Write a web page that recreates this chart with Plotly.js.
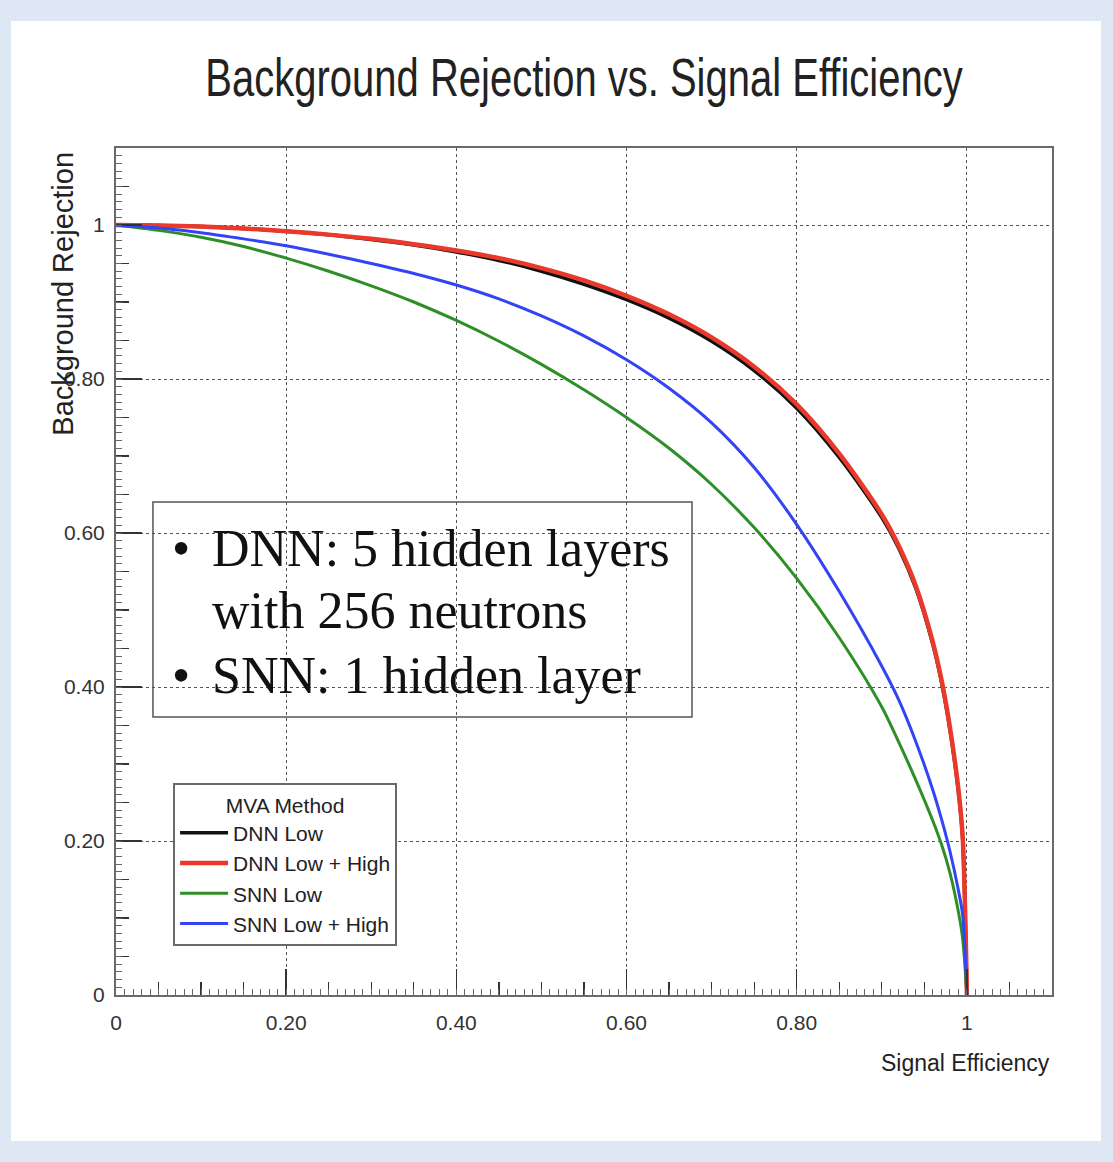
<!DOCTYPE html>
<html>
<head>
<meta charset="utf-8">
<script src="https://cdn.plot.ly/plotly-3.0.1.min.js"></script>
<style>
  html, body { margin: 0; padding: 0; background: #dde8f4; }
  #chart { position: absolute; left: 11px; top: 21px; width: 1090px; height: 1120px; background: #ffffff; }
  #chart text.gtitle { transform-box: fill-box; transform-origin: center; transform: scaleY(1.32); }
</style>
</head>
<body>
<div id="chart"></div>
<script>
// ---- data ----
const signalEfficiency = [0, 0.05, 0.1, 0.15, 0.2, 0.25, 0.3, 0.35, 0.4, 0.45, 0.5, 0.55, 0.6, 0.65, 0.7, 0.75, 0.8, 0.85, 0.9, 0.92, 0.94, 0.96, 0.97, 0.98, 0.99, 0.995, 1.0];
const dnnLow        = [1, 0.9995, 0.998, 0.9955, 0.992, 0.9872, 0.981, 0.974, 0.965, 0.954, 0.940, 0.923, 0.903, 0.879, 0.849, 0.811, 0.762, 0.698, 0.620, 0.580, 0.528, 0.455, 0.407, 0.345, 0.264, 0.204, 0];
const dnnLowHigh    = [1, 0.9995, 0.998, 0.9955, 0.992, 0.9875, 0.982, 0.975, 0.967, 0.957, 0.944, 0.928, 0.908, 0.884, 0.854, 0.816, 0.767, 0.703, 0.624, 0.583, 0.531, 0.458, 0.410, 0.348, 0.267, 0.206, 0];
const snnLow        = [1, 0.993, 0.984, 0.972, 0.957, 0.940, 0.921, 0.900, 0.876, 0.849, 0.819, 0.786, 0.750, 0.710, 0.663, 0.607, 0.541, 0.464, 0.374, 0.328, 0.279, 0.226, 0.196, 0.159, 0.108, 0.073, 0];
const snnLowHigh    = [1, 0.996, 0.990, 0.982, 0.973, 0.962, 0.950, 0.937, 0.922, 0.904, 0.882, 0.856, 0.825, 0.788, 0.743, 0.685, 0.611, 0.524, 0.427, 0.383, 0.329, 0.266, 0.229, 0.187, 0.136, 0.104, 0];

const seriesNames = ["DNN Low", "DNN Low + High", "SNN Low", "SNN Low + High"];
const tickValues = [0, 0.2, 0.4, 0.6, 0.8, 1];
const tickLabels = ["0", "0.20", "0.40", "0.60", "0.80", "1"];
const chartTitle = "Background Rejection vs. Signal Efficiency";
const xTitle = "Signal Efficiency";
const yTitle = "Background Rejection";
const legendTitle = "MVA Method";
const noteLines = ["DNN: 5 hidden layers", "with 256 neutrons", "SNN: 1 hidden layer"];

// ---- styling ----
const SANS = "Liberation Sans, Arial, sans-serif";
const SERIF = "Liberation Serif, Times New Roman, serif";

const traces = [
  {x: signalEfficiency, y: dnnLow, name: seriesNames[0], line: {color: "#111111", width: 3.5}},
  {x: signalEfficiency, y: dnnLowHigh, name: seriesNames[1], line: {color: "#e8392b", width: 4.5}},
  {x: signalEfficiency, y: snnLow, name: seriesNames[2], line: {color: "#2f8f27", width: 3}},
  {x: signalEfficiency, y: snnLowHigh, name: seriesNames[3], line: {color: "#3344f5", width: 3}}
].map(t => Object.assign({type: "scatter", mode: "lines", hoverinfo: "skip"}, t,
  {line: Object.assign({shape: "spline", smoothing: 0.8}, t.line)}));

// empty helper trace so the fine-tick overlay axes get drawn
traces.push({type: "scatter", mode: "lines", x: [], y: [], xaxis: "x2", yaxis: "y2", showlegend: false, hoverinfo: "skip"});

const axisCommon = {
  range: [0, 1.1],
  tickmode: "array",
  tickvals: tickValues,
  ticktext: tickLabels,
  ticks: "inside",
  ticklen: 26,
  tickwidth: 1.5,
  tickcolor: "#333",
  showline: true,
  mirror: true,
  linecolor: "#6a6a6a",
  linewidth: 2,
  showgrid: true,
  gridcolor: "#555",
  griddash: "dot",
  gridwidth: 1,
  zeroline: false,
  fixedrange: true,
  tickfont: {family: SANS, size: 21, color: "#333"},
  minor: {tickmode: "linear", tick0: 0, dtick: 0.05, ticks: "inside", ticklen: 13, tickwidth: 1.2, tickcolor: "#333", showgrid: false}
};
const tinyTicks = {
  range: [0, 1.1], showgrid: false, showline: false, zeroline: false, showticklabels: false,
  tickmode: "linear", tick0: 0, dtick: 0.01, ticks: "inside", ticklen: 6, tickwidth: 1, tickcolor: "#666", fixedrange: true
};

const layout = {
  width: 1090,
  height: 1120,
  margin: {l: 105, r: 49, t: 127, b: 146},
  paper_bgcolor: "#ffffff",
  plot_bgcolor: "#ffffff",
  showlegend: true,
  title: {
    text: chartTitle,
    font: {family: SANS, size: 40, color: "#222"},
    x: 0.5, xref: "paper", xanchor: "center",
    y: 0.949, yref: "container", yanchor: "middle"
  },
  xaxis: Object.assign({}, axisCommon, {ticklabelstandoff: 8}),
  yaxis: Object.assign({}, axisCommon, {ticklabelstandoff: 5}),
  xaxis2: Object.assign({}, tinyTicks, {overlaying: "x", anchor: "y2", side: "bottom"}),
  yaxis2: Object.assign({}, tinyTicks, {overlaying: "y", anchor: "x2", side: "left"}),
  legend: {
    x: 0.061, y: 0.250, xanchor: "left", yanchor: "top",
    bgcolor: "#ffffff", bordercolor: "#6a6a6a", borderwidth: 2,
    font: {family: SANS, size: 21, color: "#222"},
    title: {text: legendTitle, side: "top center", font: {family: SANS, size: 21, color: "#222"}},
    itemwidth: 48,
    tracegroupgap: 0
  },
  shapes: [
    {type: "rect", xref: "paper", yref: "paper", x0: 0.0395, x1: 0.6154, y0: 0.3282, y1: 0.582,
     line: {color: "#555", width: 1.5}, fillcolor: "rgba(0,0,0,0)"}
  ],
  annotations: [
    {text: yTitle, xref: "paper", yref: "paper", x: -0.0566, y: 0.998, xanchor: "center", yanchor: "top",
     textangle: -90, showarrow: false, font: {family: SANS, size: 29, color: "#222"}},
    {text: xTitle, xref: "paper", yref: "paper", x: 1.0, y: -0.0803, xanchor: "right", yanchor: "middle",
     showarrow: false, font: {family: SANS, size: 23, color: "#222"}},
    {text: "\u2022", xref: "paper", yref: "paper", x: 0.0577, y: 0.5277, xanchor: "left", yanchor: "middle",
     showarrow: false, font: {family: SERIF, size: 52, color: "#111"}},
    {text: noteLines[0], xref: "paper", yref: "paper", x: 0.1004, y: 0.5277, xanchor: "left", yanchor: "middle",
     showarrow: false, font: {family: SERIF, size: 52, color: "#111"}},
    {text: noteLines[1], xref: "paper", yref: "paper", x: 0.1004, y: 0.4534, xanchor: "left", yanchor: "middle",
     showarrow: false, font: {family: SERIF, size: 52, color: "#111"}},
    {text: "\u2022", xref: "paper", yref: "paper", x: 0.0577, y: 0.3778, xanchor: "left", yanchor: "middle",
     showarrow: false, font: {family: SERIF, size: 52, color: "#111"}},
    {text: noteLines[2], xref: "paper", yref: "paper", x: 0.1004, y: 0.3778, xanchor: "left", yanchor: "middle",
     showarrow: false, font: {family: SERIF, size: 52, color: "#111"}}
  ]
};

Plotly.newPlot("chart", traces, layout, {displayModeBar: false, staticPlot: true});
</script>
</body>
</html>
